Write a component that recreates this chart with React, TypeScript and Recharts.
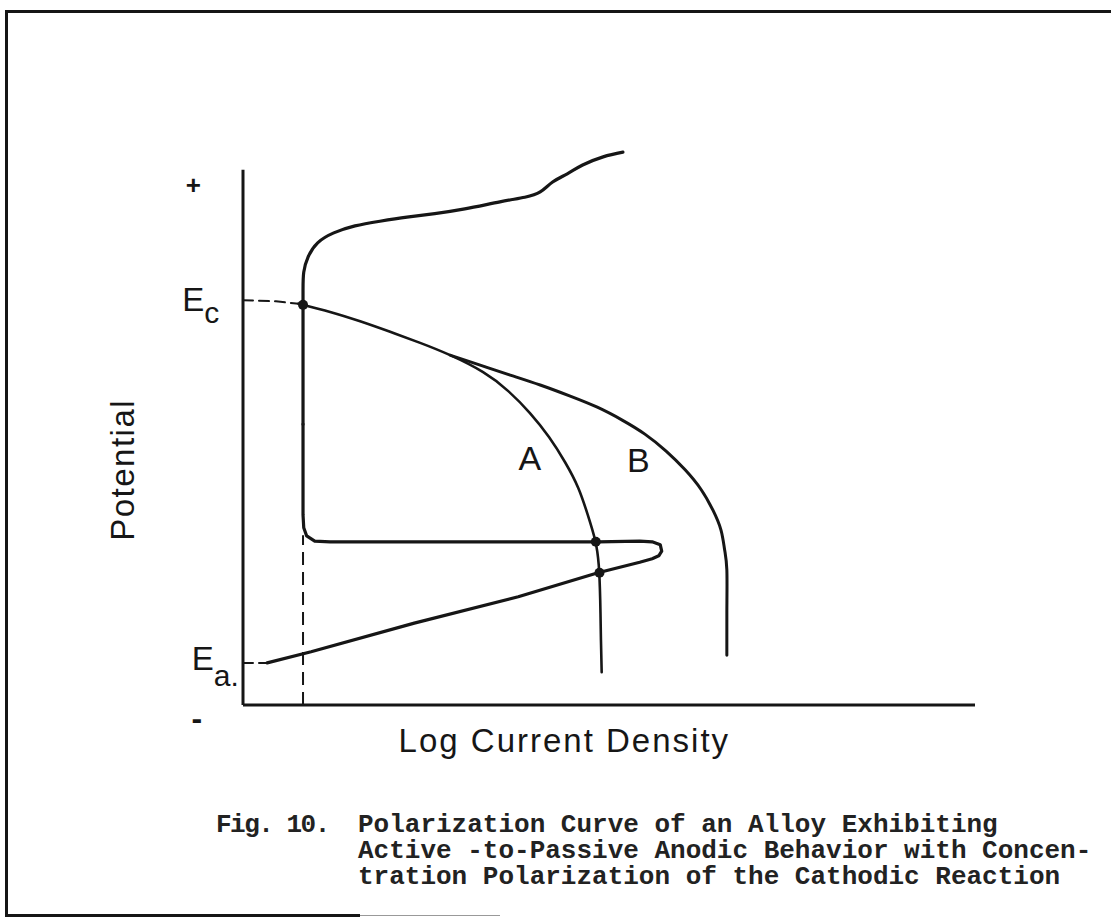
import React from 'react'
import { LineChart, Line, XAxis, YAxis, ReferenceLine, ReferenceDot } from 'recharts'

// units: x = log current density (0..100), y = potential (0..100)

// anodic curve, lower part: active line from Ea, nose, passive line, bend into the passive region
const anodicLowX = [3.3, 9.3, 23.4, 37.6, 48.5, 54.2, 55.9, 56.8, 57.2, 57.0, 55.9, 54.2, 48.5, 28.3, 11.9, 9.8, 8.7, 8.3, 8.2, 8.2]
const anodicLowY = [7.2, 9.1, 14.0, 18.5, 22.6, 24.4, 25.0, 25.5, 26.3, 27.4, 27.9, 28.0, 27.9, 27.9, 27.9, 28.0, 28.9, 30.3, 32.5, 48.0]

// anodic curve, upper part: rest of the passive region and transpassive rise
const anodicHighX = [8.2, 8.2, 8.2, 8.2, 8.2, 8.3, 8.9, 10.2, 12.4, 15.3, 18.7, 22.4, 26.2, 30.3, 35.1, 38.5, 40.6, 42.3, 44.3, 46.4, 49.2, 51.9]
const anodicHighY = [48.0, 53.8, 59.8, 65.8, 70.9, 74.0, 76.6, 79.0, 80.7, 81.9, 82.7, 83.4, 84.0, 84.8, 86.0, 86.8, 87.7, 89.4, 90.8, 92.3, 93.7, 94.5]

// cathodic reaction: common part then branch A
const cathodicAX = [7.6, 8.2, 11.9, 16.0, 20.1, 24.2, 28.3, 32.8, 36.2, 39.2, 41.8, 44.0, 45.8, 47.1, 48.1, 48.6, 48.8, 48.9, 49.0]
const cathodicAY = [68.6, 68.4, 67.2, 65.6, 63.8, 61.9, 59.8, 56.9, 53.7, 49.9, 45.8, 41.5, 37.1, 32.5, 28.2, 23.9, 17.9, 11.1, 5.6]

// branch B, leaves A at the split
const cathodicBX = [28.3, 32.4, 36.5, 40.6, 44.7, 48.4, 51.8, 54.9, 57.8, 60.4, 62.6, 64.2, 65.3, 65.8, 66.1, 66.1, 66.1]
const cathodicBY = [59.8, 58.1, 56.4, 54.7, 52.8, 50.9, 48.7, 46.3, 43.4, 40.2, 36.8, 33.3, 29.9, 26.5, 23.1, 16.2, 8.5]

// dashed extensions back to the potential axis
const ecDashX = [0, 4.5, 7.6]
const ecDashY = [69.2, 69.0, 68.6]
const eaDashX = [0, 3.3]
const eaDashY = [7.2, 7.2]

// intersections marked with dots
const crossX = [8.2, 48.2, 48.7]
const crossY = [68.4, 27.9, 22.6]

const passiveCurrent = 8.2
const axisTop = 91.5

const pts = (xs: number[], ys: number[]) => xs.map((x, i) => ({ x, y: ys[i] }))

const INK = '#161616'
const SANS = '"Liberation Sans", Arial, sans-serif'
const MONO = '"Liberation Mono", "Courier New", monospace'

const plain = (text: string, size: number, opts: { rotate?: number; weight?: number; spacing?: number } = {}) =>
  ({ viewBox }: any) => (
    <text
      x={viewBox.x}
      y={viewBox.y}
      fontFamily={SANS}
      fontSize={size}
      fontWeight={opts.weight ?? 400}
      fill={INK}
      textAnchor="middle"
      dominantBaseline="central"
      letterSpacing={opts.spacing ?? 0}
      transform={opts.rotate ? `rotate(${opts.rotate}, ${viewBox.x}, ${viewBox.y})` : undefined}
    >
      {text}
    </text>
  )

const subscripted = (main: string, sub: string, drop: number) => ({ viewBox }: any) => (
  <text x={viewBox.x} y={viewBox.y} fontFamily={SANS} fontSize={33} fill={INK}>
    {main}
    <tspan dy={drop} fontSize={30}>{sub}</tspan>
  </text>
)

export default function App() {
  const line = (data: any[], width: number, dash?: string, type: any = 'natural') => (
    <Line
      data={data}
      dataKey="y"
      type={type}
      stroke={INK}
      strokeWidth={width}
      strokeDasharray={dash}
      strokeLinejoin="round"
      strokeLinecap="round"
      dot={false}
      activeDot={false}
      isAnimationActive={false}
    />
  )

  return (
    <div style={{ position: 'absolute', left: 0, top: 0, width: 1111, height: 923, background: '#fff', overflow: 'hidden' }}>
      <LineChart width={1111} height={923} margin={{ top: 120, right: 136, bottom: 218, left: 243 }}>
        <XAxis type="number" dataKey="x" domain={[0, 100]} hide allowDataOverflow />
        <YAxis type="number" domain={[0, 100]} hide allowDataOverflow />

        <ReferenceLine segment={[{ x: 0, y: 0 }, { x: 0, y: axisTop }]} stroke={INK} strokeWidth={3} ifOverflow="visible" />
        <ReferenceLine segment={[{ x: 0, y: 0 }, { x: 100, y: 0 }]} stroke={INK} strokeWidth={3} ifOverflow="visible" />
        <ReferenceLine segment={[{ x: passiveCurrent, y: 0 }, { x: passiveCurrent, y: 29 }]} stroke={INK} strokeWidth={2} strokeDasharray="13 7" ifOverflow="visible" />

        {line(pts(ecDashX, ecDashY), 2, '10 6', 'linear')}
        {line(pts(eaDashX, eaDashY), 2, '10 6', 'linear')}
        {line(pts(cathodicAX, cathodicAY), 2.6)}
        {line(pts(cathodicBX, cathodicBY), 3)}
        {line(pts(anodicLowX, anodicLowY), 3.2, undefined, 'linear')}
        {line(pts(anodicHighX, anodicHighY), 3.2)}

        {crossX.map((x, i) => (
          <ReferenceDot key={i} x={x} y={crossY[i]} r={5} fill={INK} stroke="none" ifOverflow="visible" />
        ))}

        <ReferenceDot x={39.2} y={42.2} r={0} stroke="none" ifOverflow="visible" label={plain('A', 34)} />
        <ReferenceDot x={54.0} y={41.9} r={0} stroke="none" ifOverflow="visible" label={plain('B', 34)} />
        <ReferenceDot x={-6.8} y={88.9} r={0} stroke="none" ifOverflow="visible" label={plain('+', 26, { weight: 700 })} />
        <ReferenceDot x={-6.3} y={-2.3} r={0} stroke="none" ifOverflow="visible" label={plain('-', 32, { weight: 700 })} />
        <ReferenceDot x={-8.3} y={67.4} r={0} stroke="none" ifOverflow="visible" label={subscripted('E', 'c', 12)} />
        <ReferenceDot x={-7.0} y={6.0} r={0} stroke="none" ifOverflow="visible" label={subscripted('E', 'a.', 16)} />
        <ReferenceDot x={-16.5} y={40.2} r={0} stroke="none" ifOverflow="visible" label={plain('Potential', 33, { rotate: -90, spacing: 1.5 })} />
        <ReferenceDot x={43.9} y={-6.0} r={0} stroke="none" ifOverflow="visible" label={plain('Log Current Density', 33, { spacing: 2 })} />
      </LineChart>

      {/* page frame */}
      <div style={{ position: 'absolute', left: 5, top: 10, width: 1106, height: 3, background: INK }} />
      <div style={{ position: 'absolute', left: 5, top: 10, width: 3, height: 907, background: INK }} />
      <div style={{ position: 'absolute', left: 5, top: 914, width: 355, height: 3, background: INK }} />
      <div style={{ position: 'absolute', left: 360, top: 915, width: 140, height: 1, background: '#999' }} />

      {/* caption */}
      <div style={{ position: 'absolute', left: 0, top: 0, fontFamily: MONO, fontSize: 26, fontWeight: 700, color: '#222', whiteSpace: 'pre', lineHeight: '26px' }}>
        <div style={{ position: 'absolute', left: 216, top: 812, letterSpacing: -1.5 }}>Fig. 10.</div>
        <div style={{ position: 'absolute', left: 358, top: 812 }}>
          {'Polarization Curve of an Alloy Exhibiting\nActive -to-Passive Anodic Behavior with Concen-\ntration Polarization of the Cathodic Reaction'}
        </div>
      </div>
    </div>
  )
}
